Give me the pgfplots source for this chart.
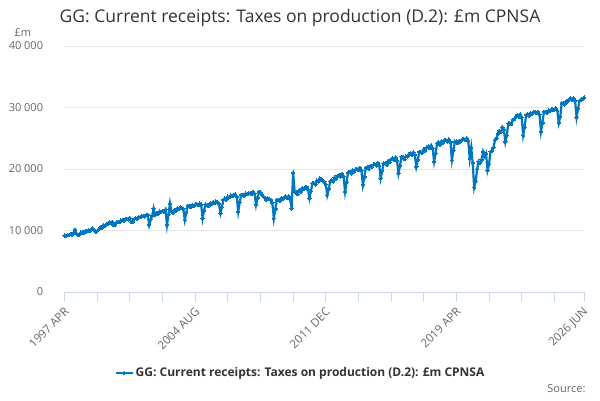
\documentclass[border=0pt]{standalone}
\usepackage{fontspec}
\setmainfont{Open Sans}
\usepackage{pgfplots}
\usepackage{pgfplotstable}
\pgfplotsset{compat=1.18}
\definecolor{ons}{RGB}{0,118,190}
\definecolor{tickc}{HTML}{CCD6EB}
\definecolor{gridc}{HTML}{E6E6E6}
\definecolor{labc}{HTML}{666666}
\definecolor{titc}{HTML}{333333}
\pgfplotstableread[row sep=\\]{
v\\
9200\\ 9150\\ 9300\\ 9250\\ 9400\\ 9350\\ 9600\\ 10100\\ 9500\\ 9250\\ 9300\\ 9700\\
9700\\ 9650\\ 9900\\ 9850\\ 10000\\ 9950\\ 10200\\ 10300\\ 10100\\ 9800\\ 9950\\ 10200\\
10500\\ 10450\\ 10800\\ 10700\\ 11000\\ 11100\\ 11300\\ 11250\\ 11400\\ 10900\\ 11000\\ 11300\\
11400\\ 11350\\ 11600\\ 11700\\ 11650\\ 11850\\ 11900\\ 11800\\ 12000\\ 11350\\ 11450\\ 11900\\
12000\\ 11900\\ 12200\\ 12150\\ 12300\\ 12400\\ 12300\\ 12500\\ 12550\\ 10900\\ 11800\\ 12400\\
13600\\ 12500\\ 12800\\ 12700\\ 13100\\ 13000\\ 13200\\ 13100\\ 13400\\ 10900\\ 12600\\ 14400\\
13100\\ 12900\\ 13300\\ 13200\\ 13600\\ 13500\\ 13800\\ 13700\\ 13500\\ 11700\\ 12900\\ 14000\\
14000\\ 13800\\ 14150\\ 14000\\ 14200\\ 14300\\ 14100\\ 14400\\ 14200\\ 11980\\ 13300\\ 14200\\
14100\\ 14000\\ 14400\\ 14300\\ 14600\\ 14500\\ 14700\\ 14600\\ 14400\\ 12800\\ 13800\\ 15000\\
15200\\ 15000\\ 15500\\ 15400\\ 15700\\ 15600\\ 15800\\ 15900\\ 15500\\ 13060\\ 14600\\ 15800\\
15800\\ 15600\\ 16000\\ 15900\\ 16050\\ 16100\\ 15900\\ 16300\\ 16000\\ 14150\\ 15300\\ 16300\\
16200\\ 15800\\ 15500\\ 15300\\ 15000\\ 15200\\ 15100\\ 15000\\ 14500\\ 11980\\ 13500\\ 14960\\
15000\\ 14800\\ 15240\\ 15100\\ 15400\\ 15500\\ 15300\\ 15600\\ 15200\\ 13600\\ 19400\\ 16300\\
16200\\ 15900\\ 16500\\ 16300\\ 16860\\ 16700\\ 17000\\ 17100\\ 16700\\ 15240\\ 16400\\ 17670\\
17700\\ 17500\\ 18100\\ 18000\\ 18490\\ 18300\\ 18100\\ 17900\\ 17500\\ 15770\\ 16800\\ 18000\\
18210\\ 18000\\ 18600\\ 18400\\ 18900\\ 19020\\ 18800\\ 19200\\ 18800\\ 16300\\ 17800\\ 19400\\
19560\\ 19300\\ 19800\\ 19600\\ 19900\\ 20000\\ 19800\\ 20200\\ 19800\\ 17400\\ 18700\\ 20200\\
20300\\ 20000\\ 20500\\ 20400\\ 20700\\ 20800\\ 20600\\ 21000\\ 20600\\ 18490\\ 19700\\ 20920\\
20920\\ 20700\\ 21300\\ 21100\\ 21600\\ 21740\\ 21500\\ 21900\\ 21400\\ 19300\\ 20500\\ 22000\\
22000\\ 21600\\ 22100\\ 22000\\ 22400\\ 22550\\ 22300\\ 22700\\ 22300\\ 20380\\ 21500\\ 22810\\
22810\\ 22600\\ 23200\\ 23000\\ 23500\\ 23630\\ 23400\\ 23800\\ 23400\\ 21190\\ 22500\\ 24200\\
24300\\ 24000\\ 24500\\ 24300\\ 24650\\ 24720\\ 24500\\ 24800\\ 24400\\ 21460\\ 23000\\ 24440\\
24440\\ 24200\\ 24600\\ 24500\\ 24800\\ 24900\\ 24700\\ 25000\\ 24600\\ 21740\\ 23500\\ 21000\\
17000\\ 18000\\ 20000\\ 21200\\ 21000\\ 21500\\ 22800\\ 22000\\ 22500\\ 19800\\ 20800\\ 22800\\
23000\\ 23500\\ 24700\\ 25000\\ 25700\\ 26200\\ 26000\\ 26800\\ 26400\\ 24400\\ 25500\\ 27400\\
27400\\ 27300\\ 28000\\ 28100\\ 28500\\ 28800\\ 28500\\ 28900\\ 28400\\ 25500\\ 26800\\ 28800\\
28900\\ 28700\\ 29100\\ 29000\\ 29200\\ 29300\\ 29100\\ 29300\\ 28900\\ 26100\\ 27500\\ 29300\\
29300\\ 29100\\ 29500\\ 29400\\ 29700\\ 29700\\ 29600\\ 29900\\ 29500\\ 27500\\ 28500\\ 30700\\
30700\\ 30500\\ 31000\\ 31000\\ 31300\\ 31500\\ 31200\\ 31500\\ 31100\\ 28400\\ 29800\\ 31100\\
31300\\ 31400\\ 31600\\
}\datatable
\begin{document}
\begin{tikzpicture}
\useasboundingbox (0pt,0pt) rectangle (600pt,400pt);
\node[text=titc,font=\fontsize{17.5}{20}\selectfont] at (300pt,382pt) {GG: Current receipts: Taxes on production (D.2): £m CPNSA};
\node[text=labc,font=\fontsize{11}{13}\selectfont,anchor=west] at (11pt,367pt) {£m};
\node[text=labc,font=\fontsize{11}{13}\selectfont,anchor=east] at (589pt,11pt) {Source:};
\begin{axis}[
  at={(64.6pt,108pt)}, anchor=south west,
  scale only axis, width=519.4pt, height=246pt,
  xmin=0, xmax=350, ymin=0, ymax=40000,
  enlargelimits=false, clip=false,
  scaled y ticks=false,
  axis x line=bottom, axis y line=left,
  y axis line style={draw=none},
  x axis line style={draw=tickc,line width=0.8pt,-},
  ytick={0,10000,20000,30000,40000},
  yticklabels={0,10 000,20 000,30 000,40 000},
  ytick style={draw=none},
  ymajorgrids, grid style={draw=gridc,line width=0.8pt},
  yticklabel style={text=labc,font=\fontsize{11}{13}\selectfont,xshift=-8pt},
  xtick={0,88,176,264,350},
  xticklabels={1997 APR,2004 AUG,2011 DEC,2019 APR,2026 JUN},
  minor xtick={22,44,66,110,132,154,198,220,242,286,308,330},
  tick align=outside, major tick length=10pt, minor tick length=10pt,
  xtick style={draw=tickc,line width=0.8pt},
  minor x tick style={draw=tickc,line width=0.8pt},
  xticklabel style={text=labc,font=\fontsize{11.5}{13}\selectfont,xshift=3pt,yshift=-7pt,rotate=45,anchor=east,inner sep=1pt},
  legend style={at={(0.454,-0.329)},anchor=center,draw=none,fill=none,
    font=\bfseries\fontsize{12}{14}\selectfont,text=titc,legend cell align=left},
]
\addplot[color=ons,line width=2.2pt,mark=*,mark size=1.7pt,mark options={line width=0pt}]
  table[x expr=\coordindex,y=v]{\datatable};
\addlegendentry{GG: Current receipts: Taxes on production (D.2): £m CPNSA}
\end{axis}
\end{tikzpicture}
\end{document}
